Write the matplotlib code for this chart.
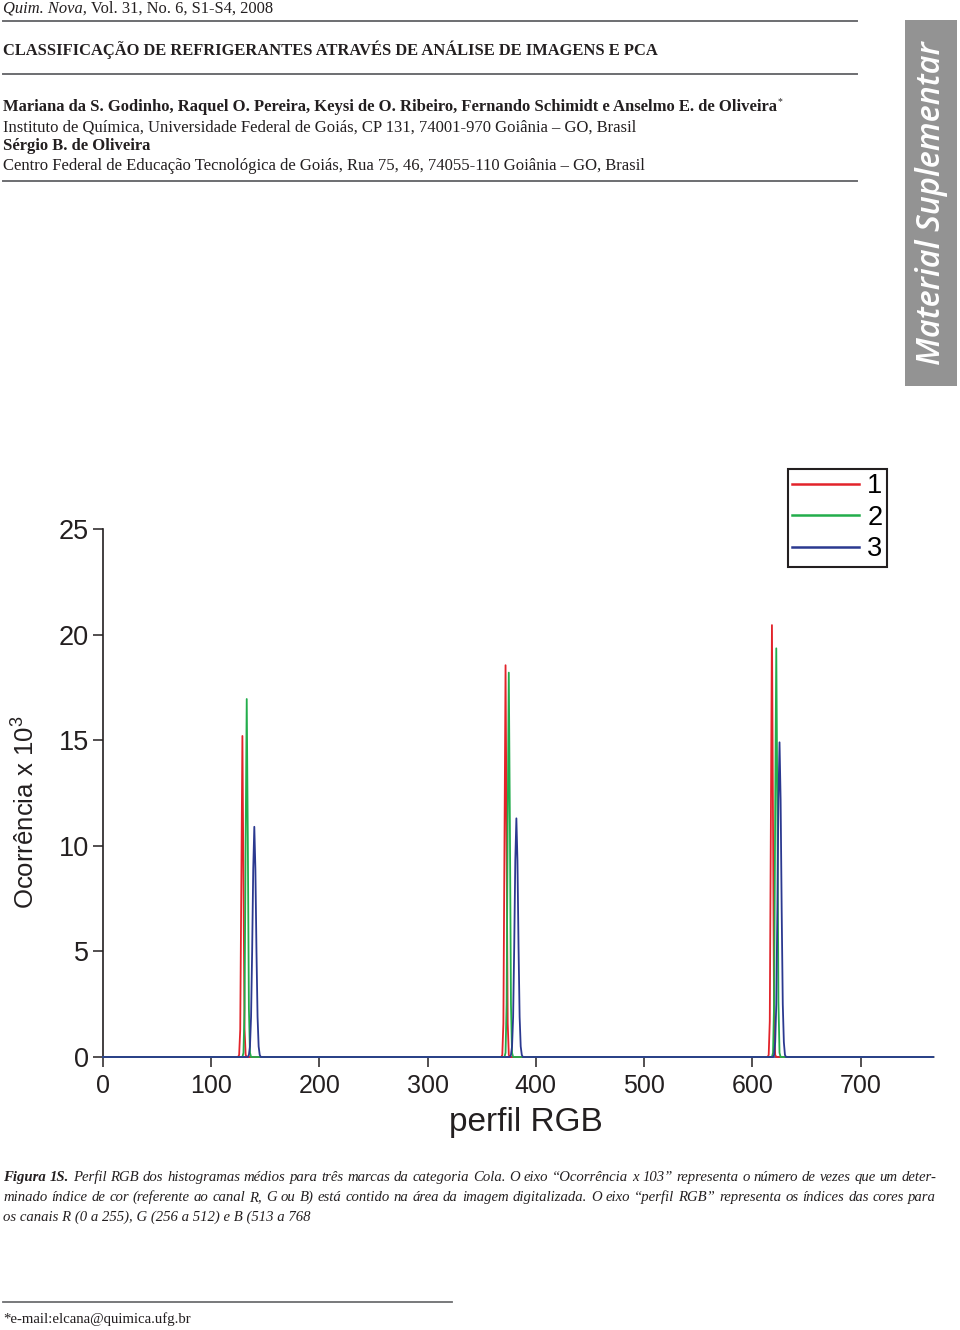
import matplotlib
matplotlib.use("Agg")
import matplotlib.pyplot as plt
from matplotlib import font_manager as fm
from matplotlib.patches import Rectangle
from matplotlib.lines import Line2D

# ---------------- data ----------------
series_labels = ["1", "2", "3"]

x_brand1 = [0,
            125, 126, 127, 128, 129, 130, 131, 132, 133,
            368, 369, 370, 371, 372, 373, 374, 375, 376,
            614, 615, 616, 617, 618, 619, 620, 621, 622,
            767]
y_brand1 = [0,
            0, 0.1, 1.3, 8.2, 15.2, 8.2, 1.3, 0.1, 0,
            0, 0.1, 1.6, 10.0, 18.55, 10.0, 1.6, 0.1, 0,
            0, 0.1, 1.7, 11.0, 20.45, 11.0, 1.7, 0.1, 0,
            0]

x_brand2 = [0,
            129, 130, 131, 132, 133, 134, 135, 136, 137,
            371, 372, 373, 374, 375, 376, 377, 378, 379,
            618, 619, 620, 621, 622, 623, 624, 625, 626,
            767]
y_brand2 = [0,
            0, 0.2, 2.3, 10.3, 16.95, 10.3, 2.3, 0.2, 0,
            0, 0.2, 2.5, 11.1, 18.2, 11.1, 2.5, 0.2, 0,
            0, 0.2, 2.6, 11.8, 19.35, 11.8, 2.6, 0.2, 0,
            0]

x_brand3 = [0,
            134, 135, 136, 137, 138, 139, 140, 141, 142, 143, 144, 145, 146,
            376, 377, 378, 379, 380, 381, 382, 383, 384, 385, 386, 387, 388,
            619, 620, 621, 622, 623, 624, 625, 626, 627, 628, 629, 630, 631,
            767]
y_brand3 = [0,
            0, 0.1, 0.5, 1.9, 5.0, 8.9, 10.9, 8.9, 5.0, 1.9, 0.5, 0.1, 0,
            0, 0.1, 0.5, 1.9, 5.2, 9.3, 11.3, 9.3, 5.2, 1.9, 0.5, 0.1, 0,
            0, 0.1, 0.7, 2.5, 6.9, 12.2, 14.9, 12.2, 6.9, 2.5, 0.7, 0.1, 0,
            0]

x_ticks = [0, 100, 200, 300, 400, 500, 600, 700]
y_ticks = [0, 5, 10, 15, 20, 25]

# ---------------- fonts ----------------
names = {f.name for f in fm.fontManager.ttflist}
SANS = "Liberation Sans" if "Liberation Sans" in names else "DejaVu Sans"
NARROW = "Liberation Sans Narrow" if "Liberation Sans Narrow" in names else SANS
SERIF = "Liberation Serif" if "Liberation Serif" in names else "DejaVu Serif"
SIDE = "Open Sans" if "Open Sans" in names else SANS

plt.rcParams["font.family"] = [SANS, "DejaVu Sans"]
plt.rcParams["mathtext.fontset"] = "custom"
plt.rcParams["mathtext.rm"] = NARROW
plt.rcParams["mathtext.it"] = NARROW
plt.rcParams["mathtext.default"] = "regular"

W, H = 960, 1330
fig = plt.figure(figsize=(W / 100, H / 100), dpi=100)
fig.patch.set_facecolor("white")
renderer = fig.canvas.get_renderer()

TXT = "#231f20"


def fx(px):
    return px / W


def fy(py):
    return 1 - py / H


def fit_text(x, y, s, width, size0=12, **kw):
    t = fig.text(fx(x), fy(y), s, fontsize=size0, va="baseline", ha="left", **kw)
    w = t.get_window_extent(renderer).width
    t.set_fontsize(size0 * width / w)
    return t


def hline(x0, x1, y, lw=1.4, color="#6d6e71"):
    fig.add_artist(Line2D([fx(x0), fx(x1)], [fy(y), fy(y)], lw=lw, color=color))


# ---------------- header ----------------
hdr = fig.text(fx(3), fy(12.5), "Quim. Nova,", fontsize=11.9, family=SERIF,
               style="italic", va="baseline", color=TXT)
ww = hdr.get_window_extent(renderer).width
fig.text(fx(3) + ww / W, fy(12.5), " Vol. 31, No. 6, S1-S4, 2008", fontsize=11.9,
         family=SERIF, va="baseline", color=TXT)
hline(3, 857, 20.5)
fit_text(3, 55, "CLASSIFICAÇÃO DE REFRIGERANTES ATRAVÉS DE ANÁLISE DE IMAGENS E PCA",
         656, family=SERIF, weight="bold", color=TXT)
hline(3, 857, 73.5)
t = fit_text(3, 111, "Mariana da S. Godinho, Raquel O. Pereira, Keysi de O. Ribeiro, "
             "Fernando Schimidt e Anselmo E. de Oliveira", 774,
             family=SERIF, weight="bold", color=TXT)
bb = t.get_window_extent(renderer)
fig.text(bb.x1 / W + 1 / W, fy(104), "*", fontsize=7, family=SERIF, va="baseline", color=TXT)
fit_text(3, 131, "Instituto de Química, Universidade Federal de Goiás, CP 131, "
         "74001-970 Goiânia – GO, Brasil", 633, family=SERIF, color=TXT)
fit_text(3, 150.5, "Sérgio B. de Oliveira", 147, family=SERIF, weight="bold", color=TXT)
fit_text(3, 170.5, "Centro Federal de Educação Tecnológica de Goiás, Rua 75, 46, "
         "74055-110 Goiânia – GO, Brasil", 642, family=SERIF, color=TXT)
hline(3, 857, 181)

# ---------------- side bar ----------------
fig.add_artist(Rectangle((fx(905), fy(386)), 52 / W, 366 / H, transform=fig.transFigure,
                         facecolor="#939393", edgecolor="none"))
st = fig.text(fx(931), fy(203), "Material Suplementar", fontsize=20, family=SIDE,
              style="italic", weight="semibold", color="white", rotation=90,
              ha="center", va="center")
h = st.get_window_extent(renderer).height
st.set_fontsize(20 * 325 / h)

# ---------------- chart ----------------
ax = fig.add_axes([fx(102.7), fy(1057), (933.3 - 102.7) / W, (1057 - 529) / H])
colors = ["#e2232a", "#22ad4b", "#2b3990"]
handles = []
for xs, ys, c, lab in zip([x_brand1, x_brand2, x_brand3],
                          [y_brand1, y_brand2, y_brand3], colors, series_labels):
    ln, = ax.plot(xs, ys, color=c, lw=1.3, label=lab, zorder=3, clip_on=False)
    handles.append(ln)

ax.set_xlim(0, 767)
ax.set_ylim(0, 25)
ax.set_xticks(x_ticks)
ax.set_yticks(y_ticks)
for s in ["top", "right"]:
    ax.spines[s].set_visible(False)
ax.spines["left"].set_color(TXT)
ax.spines["left"].set_linewidth(1.2)
ax.spines["bottom"].set_color("#3b4a8a")
ax.spines["bottom"].set_linewidth(1.2)
ax.tick_params(direction="out", length=7.5, width=1.1, labelsize=18, colors=TXT)
ax.tick_params(axis="x", pad=5)
ax.tick_params(axis="y", pad=2.5, labelsize=19.5)

ax.set_ylabel("Ocorrência x 10$^{3}$", fontsize=18.5, family=NARROW, color=TXT,
              va="center")
ax.yaxis.set_label_coords((26 - 102.7) / 830.6, (1057 - 812) / 528)
ax.set_xlabel("perfil RGB", fontsize=24, color=TXT, va="baseline")
ax.xaxis.set_label_coords((526 - 102.7) / 830.6, -(1131.5 - 1057) / 528)

leg = fig.legend(handles, series_labels, loc="upper left",
                 bbox_to_anchor=(fx(788), fy(469)), borderaxespad=0,
                 fontsize=19.5, frameon=True, fancybox=False, framealpha=1,
                 edgecolor=TXT, borderpad=0.16, labelspacing=0.2,
                 handlelength=2.45, handletextpad=0.32)
leg.get_frame().set_linewidth(1.5)
for l in leg.get_lines():
    l.set_linewidth(1.8)

# ---------------- caption ----------------


def justify(y, words, x0, x1, size):
    arts = []
    total = 0
    for wtxt, kw in words:
        a = fig.text(0, fy(y), wtxt, fontsize=size, family=SERIF, style="italic",
                     va="baseline", ha="left", color=TXT, **kw)
        arts.append(a)
        total += a.get_window_extent(renderer).width
    gap = (x1 - x0 - total) / (len(arts) - 1)
    x = x0
    for a in arts:
        a.set_x(fx(x))
        x += a.get_window_extent(renderer).width + gap


l3 = fit_text(3, 1221, "os canais R (0 a 255), G (256 a 512) e B (513 a 768", 307,
              family=SERIF, style="italic", color=TXT)
CAP = l3.get_fontsize()

line1 = ("Perfil RGB dos histogramas médios para três marcas da categoria Cola. "
         "O eixo “Ocorrência x 103” representa o número de vezes que um deter-").split(" ")
words1 = [("Figura", {"weight": "bold"}), ("1S.", {"weight": "bold"})] + [(w, {}) for w in line1]
justify(1181, words1, 3, 936, CAP)
line2 = ("minado índice de cor (referente ao canal R, G ou B) está contido na área da "
         "imagem digitalizada. O eixo “perfil RGB” representa os índices das cores para").split(" ")
justify(1201, [(w, {}) for w in line2], 3, 936, CAP)

# ---------------- footnote ----------------
hline(3, 452, 1302, lw=1.3)
fit_text(3, 1323, "*e-mail:elcana@quimica.ufg.br", 188, family=SERIF, color=TXT)

fig.savefig("out.png", dpi=100, facecolor="white")
